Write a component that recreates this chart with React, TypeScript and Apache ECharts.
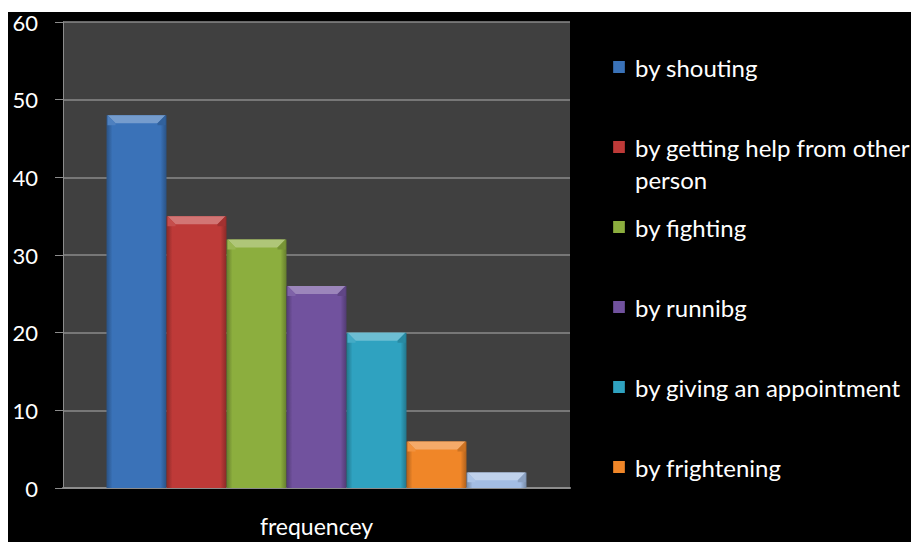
import React, { useEffect, useRef } from "react";
import * as echarts from "echarts";

const categories = ["frequencey"];
const seriesNames = [
  "by shouting",
  "by getting help from other person",
  "by fighting",
  "by runnibg",
  "by giving an appointment",
  "by frightening",
  "other",
];
const seriesValues = [48, 35, 32, 26, 20, 6, 2];
const seriesColors = ["#3A72B8", "#BE3A38", "#8CAE3E", "#71529E", "#2FA2C0", "#F08628", "#A3BDE3"];
const legendNames = seriesNames.slice(0, 6);
const yTicks = [0, 10, 20, 30, 40, 50, 60];

const FONT = "Lato, 'Open Sans', sans-serif";
const BAR_W = 60;

function shade(hex: string, f: number) {
  const n = parseInt(hex.slice(1), 16);
  let r = (n >> 16) & 255, g = (n >> 8) & 255, b = n & 255;
  if (f >= 0) {
    r = Math.round(r + (255 - r) * f); g = Math.round(g + (255 - g) * f); b = Math.round(b + (255 - b) * f);
  } else {
    r = Math.round(r * (1 + f)); g = Math.round(g * (1 + f)); b = Math.round(b * (1 + f));
  }
  return `rgb(${r},${g},${b})`;
}

export default function App() {
  const ref = useRef<HTMLDivElement>(null);
  useEffect(() => {
    if (!ref.current) return;
    const chart = echarts.init(ref.current, null, { renderer: "svg" });
    const n = seriesValues.length;
    const barSeries = seriesNames.map((name, i) => ({
      type: "bar",
      name,
      data: [seriesValues[i]],
      barWidth: BAR_W,
      barGap: "0%",
      itemStyle: {
        color: new echarts.graphic.LinearGradient(0, 0, 1, 0, [
          { offset: 0, color: shade(seriesColors[i], -0.28) },
          { offset: 0.1, color: seriesColors[i] },
          { offset: 0.9, color: seriesColors[i] },
          { offset: 1, color: shade(seriesColors[i], -0.28) },
        ]),
      },
      z: 2,
    }));
    const bevel = {
      type: "custom",
      name: "bevel",
      z: 3,
      silent: true,
      data: seriesValues.map((v, i) => [0, v, i]),
      renderItem: (params: any, api: any) => {
        const v = api.value(1);
        const i = api.value(2);
        const top = api.coord([0, v]);
        const base = api.coord([0, 0]);
        const cx = top[0] + (i - (n - 1) / 2) * BAR_W;
        const x0 = cx - BAR_W / 2 + 1;
        const x1 = cx + BAR_W / 2 - 1;
        const d = Math.min(8, (base[1] - top[1]) / 2);
        const c = seriesColors[i];
        return {
          type: "group",
          children: [
            {
              type: "polygon",
              shape: { points: [[x0, top[1]], [x1, top[1]], [x1 - d, top[1] + d], [x0 + d, top[1] + d]] },
              style: { fill: shade(c, 0.3) },
            },
            {
              type: "polygon",
              shape: { points: [[x0, top[1]], [x0 + d, top[1] + d], [x0 + d, top[1] + d + 2], [x0, top[1] + d + 2]] },
              style: { fill: shade(c, 0.1) },
            },
            {
              type: "polygon",
              shape: { points: [[x1, top[1]], [x1 - d, top[1] + d], [x1 - d, top[1] + d + 2], [x1, top[1] + d + 2]] },
              style: { fill: shade(c, -0.15) },
            },
          ],
        };
      },
    };
    const centers = [59, 139, 219, 299, 379, 459];
    const legends = legendNames.map((name, i) => {
      const two = i === 1;
      return {
        show: true,
        left: 605,
        top: two ? centers[i] - 48 : centers[i] - 12,
        padding: 0,
        orient: "vertical",
        data: [name],
        icon: "rect",
        itemWidth: 12,
        itemHeight: 12,
        selectedMode: false,
        formatter: (nm: string) => (nm === seriesNames[1] ? "\nby getting help from other\nperson" : nm),
        textStyle: {
          color: "#ffffff",
          fontFamily: FONT,
          fontSize: 24,
          lineHeight: two ? 32 : 24,
          padding: [0, 0, 0, 5],
        },
      };
    });
    chart.setOption({
      animation: false,
      backgroundColor: "#000000",
      graphic: [
        { type: "rect", left: 0, top: 0, z: -10, shape: { width: 911, height: 4 }, style: { fill: "#ffffff" } },
      ],
      grid: {
        left: 55,
        right: 349,
        top: 14,
        bottom: 54,
        show: true,
        backgroundColor: "#404040",
        borderWidth: 0,
      },
      legend: legends,
      xAxis: {
        type: "category",
        data: categories,
        axisLine: { lineStyle: { color: "#8c8c8c", width: 2 } },
        axisTick: { show: false },
        axisLabel: { color: "#ffffff", fontFamily: FONT, fontSize: 23, lineHeight: 22, margin: 27 },
      },
      yAxis: {
        type: "value",
        min: yTicks[0],
        max: yTicks[yTicks.length - 1],
        interval: 10,
        axisLine: { show: true, lineStyle: { color: "#8c8c8c", width: 1 } },
        axisTick: { show: true, length: 8, lineStyle: { color: "#8c8c8c" } },
        axisLabel: { color: "#ffffff", fontFamily: FONT, fontSize: 22, lineHeight: 16, margin: 25 },
        splitLine: { lineStyle: { color: "#8a8a8a", width: 1.5 } },
      },
      series: [...barSeries, bevel],
    });
    return () => chart.dispose();
  }, []);
  return <div ref={ref} style={{ width: 911, height: 534 }} />;
}
